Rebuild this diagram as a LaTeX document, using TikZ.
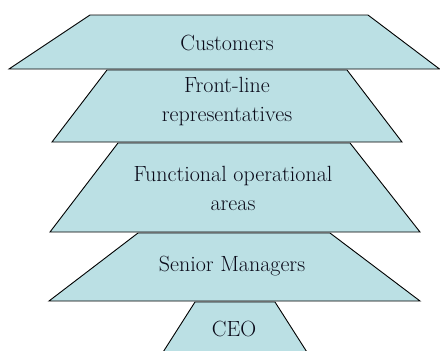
\documentclass[tikz,border=0pt]{standalone}
\usepackage{fontspec}
\definecolor{tierfill}{RGB}{187,224,228}
\definecolor{tiertext}{RGB}{10,10,25}
\tikzset{
  tier/.style={fill=tierfill, draw=black, line width=0.9pt, line join=miter},
  lbl/.style={font=\rmfamily\fontsize{22}{29}\selectfont, text=tiertext, align=center, inner sep=0pt}
}
\begin{document}
\begin{tikzpicture}[x=1pt,y=-1pt]
\useasboundingbox (0,0) rectangle (440,351);
\fill[white] (0,0) rectangle (440,351);
\begin{scope}
\clip (0,0) rectangle (440,351);
% CEO
\path[tier] (195,302) -- (275,302) -- (312,360) -- (158,360) -- cycle;
% Senior Managers
\path[tier] (138,233) -- (330,233) -- (420,301) -- (49,301) -- cycle;
% Functional operational areas
\path[tier] (118,143) -- (350,143) -- (420,232) -- (50,232) -- cycle;
% Front-line representatives
\path[tier] (107,70) -- (347,70) -- (402,142) -- (52,142) -- cycle;
% Customers
\path[tier] (90,15) -- (368,15) -- (439.5,69) -- (9,69) -- cycle;
\end{scope}
\node[lbl] (cust) at (227,43) {Customers};
\node[lbl] (front) at (227,102) {Front-line\\representatives};
\node[lbl] (func) at (233,188) {Functional operational\\areas};
\node[lbl] (senior) at (232,266) {Senior Managers};
\node[lbl] (ceo) at (234,329) {CEO};
\end{tikzpicture}
\end{document}
